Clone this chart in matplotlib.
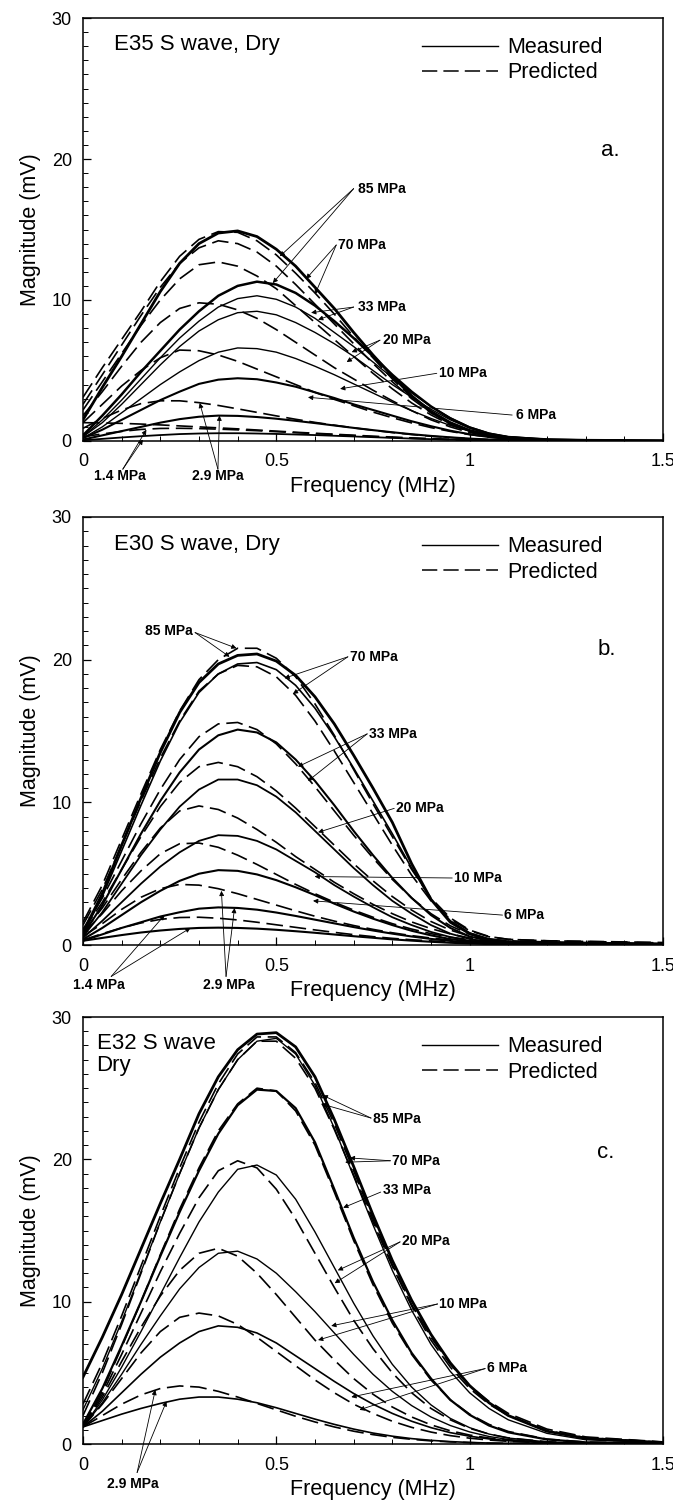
import numpy as np
import matplotlib
matplotlib.use('Agg')
import matplotlib.pyplot as plt
from matplotlib.ticker import FixedLocator, MultipleLocator
from matplotlib.lines import Line2D

plt.rcParams['font.family'] = ['Liberation Sans', 'DejaVu Sans']

# Frequency grid (MHz) the curves were read at
freq = [0.0, 0.05, 0.1, 0.15, 0.2, 0.25, 0.3, 0.35, 0.4, 0.45, 0.5, 0.55, 0.6,
        0.65, 0.7, 0.75, 0.8, 0.85, 0.9, 0.95, 1.0, 1.05, 1.1, 1.2, 1.3, 1.5]

# ---- panel a: E35 (mV) ----
a_solid_1 = [1.5, 3.8, 6.0, 8.3, 10.6, 12.6, 14.0, 14.75, 14.9, 14.5, 13.6, 12.4, 10.9, 9.4, 7.7, 6.1, 4.6, 3.2, 2.1, 1.3, 0.75, 0.42, 0.25, 0.1, 0.05, 0.02]
a_solid_2 = [0.4, 1.8, 3.3, 4.9, 6.4, 7.9, 9.2, 10.3, 11.0, 11.3, 11.1, 10.5, 9.6, 8.5, 7.3, 6.0, 4.7, 3.5, 2.45, 1.6, 0.95, 0.52, 0.28, 0.09, 0.04, 0.01]
a_solid_3 = [0.3, 1.5, 2.9, 4.4, 5.9, 7.3, 8.5, 9.5, 10.1, 10.3, 10.05, 9.5, 8.7, 7.7, 6.7, 5.6, 4.5, 3.4, 2.45, 1.65, 1.0, 0.56, 0.3, 0.1, 0.04, 0.01]
a_solid_4 = [0.3, 1.3, 2.6, 4.0, 5.4, 6.7, 7.8, 8.6, 9.1, 9.2, 8.95, 8.4, 7.7, 6.9, 6.0, 5.0, 4.0, 3.1, 2.25, 1.5, 0.92, 0.52, 0.28, 0.09, 0.03, 0.01]
a_solid_5 = [0.2, 1.0, 2.0, 3.0, 4.0, 4.9, 5.7, 6.3, 6.6, 6.55, 6.3, 5.85, 5.3, 4.7, 4.05, 3.4, 2.75, 2.15, 1.6, 1.1, 0.7, 0.4, 0.22, 0.07, 0.03, 0.01]
a_solid_6 = [0.2, 0.8, 1.5, 2.2, 2.9, 3.5, 4.05, 4.35, 4.45, 4.38, 4.15, 3.85, 3.45, 3.05, 2.6, 2.2, 1.8, 1.4, 1.05, 0.73, 0.48, 0.28, 0.15, 0.05, 0.02, 0.0]
a_solid_7 = [0.1, 0.4, 0.7, 1.0, 1.3, 1.55, 1.72, 1.8, 1.78, 1.7, 1.58, 1.43, 1.27, 1.1, 0.93, 0.77, 0.62, 0.48, 0.36, 0.26, 0.17, 0.1, 0.06, 0.02, 0.01, 0.0]
a_solid_8 = [0.05, 0.15, 0.25, 0.34, 0.42, 0.49, 0.53, 0.55, 0.55, 0.53, 0.5, 0.46, 0.42, 0.37, 0.32, 0.27, 0.22, 0.17, 0.13, 0.09, 0.06, 0.04, 0.02, 0.01, 0.0, 0.0]
a_dash_1 = [3.1, 5.2, 7.2, 9.2, 11.3, 13.1, 14.3, 14.85, 14.8, 14.2, 13.2, 11.9, 10.5, 9.0, 7.4, 5.9, 4.4, 3.1, 2.0, 1.2, 0.7, 0.38, 0.2, 0.06, 0.02, 0.0]
a_dash_2 = [2.6, 4.7, 6.8, 8.9, 10.9, 12.6, 13.7, 14.2, 14.0, 13.4, 12.4, 11.1, 9.7, 8.3, 6.9, 5.5, 4.2, 3.0, 2.0, 1.2, 0.7, 0.38, 0.2, 0.06, 0.02, 0.0]
a_dash_3 = [2.2, 4.2, 6.2, 8.2, 10.0, 11.5, 12.5, 12.7, 12.4, 11.7, 10.8, 9.6, 8.4, 7.2, 6.0, 4.8, 3.7, 2.7, 1.85, 1.15, 0.68, 0.37, 0.19, 0.06, 0.02, 0.0]
a_dash_4 = [1.8, 3.5, 5.3, 7.0, 8.4, 9.4, 9.8, 9.7, 9.3, 8.7, 7.9, 7.0, 6.1, 5.2, 4.4, 3.6, 2.85, 2.15, 1.5, 1.0, 0.6, 0.33, 0.17, 0.05, 0.02, 0.0]
a_dash_5 = [1.3, 2.6, 3.9, 5.0, 5.9, 6.45, 6.4, 6.1, 5.65, 5.1, 4.55, 4.0, 3.45, 2.95, 2.5, 2.05, 1.65, 1.28, 0.95, 0.68, 0.45, 0.28, 0.15, 0.05, 0.02, 0.0]
a_dash_6 = [0.9, 1.6, 2.2, 2.65, 2.85, 2.85, 2.72, 2.52, 2.28, 2.03, 1.78, 1.54, 1.32, 1.12, 0.93, 0.76, 0.6, 0.46, 0.34, 0.24, 0.16, 0.1, 0.06, 0.02, 0.01, 0.0]
a_dash_7 = [1.3, 1.28, 1.25, 1.2, 1.14, 1.07, 1.0, 0.93, 0.86, 0.78, 0.7, 0.62, 0.55, 0.48, 0.41, 0.34, 0.28, 0.22, 0.17, 0.12, 0.08, 0.05, 0.03, 0.01, 0.0, 0.0]
a_dash_8 = [0.3, 0.5, 0.68, 0.82, 0.89, 0.9, 0.88, 0.84, 0.79, 0.73, 0.66, 0.59, 0.52, 0.45, 0.38, 0.31, 0.25, 0.19, 0.14, 0.1, 0.07, 0.04, 0.02, 0.01, 0.0, 0.0]

# ---- panel b: E30 (mV) ----
b_solid_1 = [0.9, 3.6, 7.0, 10.3, 13.5, 16.3, 18.4, 19.7, 20.3, 20.4, 19.9, 18.9, 17.4, 15.5, 13.3, 11.0, 8.6, 5.7, 3.2, 1.6, 0.8, 0.4, 0.22, 0.1, 0.06, 0.03]
b_solid_2 = [0.8, 3.4, 6.6, 9.8, 12.9, 15.6, 17.7, 19.0, 19.7, 19.8, 19.3, 18.2, 16.6, 14.6, 12.4, 10.1, 7.8, 5.4, 3.2, 1.7, 0.85, 0.4, 0.2, 0.08, 0.04, 0.02]
b_solid_3 = [0.7, 2.8, 5.3, 7.8, 10.1, 12.1, 13.7, 14.7, 15.1, 14.9, 14.2, 13.0, 11.5, 9.8, 8.0, 6.3, 4.7, 3.3, 2.1, 1.2, 0.6, 0.3, 0.15, 0.05, 0.03, 0.01]
b_solid_4 = [0.6, 2.3, 4.3, 6.3, 8.1, 9.7, 10.9, 11.6, 11.6, 11.2, 10.4, 9.3, 8.0, 6.7, 5.4, 4.2, 3.1, 2.2, 1.4, 0.8, 0.42, 0.2, 0.1, 0.04, 0.02, 0.01]
b_solid_5 = [0.5, 1.7, 3.0, 4.3, 5.5, 6.5, 7.3, 7.7, 7.65, 7.3, 6.7, 5.9, 5.1, 4.2, 3.4, 2.65, 1.95, 1.4, 0.92, 0.56, 0.3, 0.15, 0.08, 0.03, 0.01, 0.0]
b_solid_6 = [0.4, 1.2, 2.1, 3.0, 3.8, 4.5, 5.0, 5.25, 5.2, 4.95, 4.55, 4.05, 3.5, 2.9, 2.35, 1.85, 1.4, 1.0, 0.68, 0.42, 0.24, 0.13, 0.07, 0.03, 0.01, 0.0]
b_solid_7 = [0.3, 0.75, 1.2, 1.6, 2.0, 2.3, 2.55, 2.64, 2.6, 2.48, 2.28, 2.04, 1.78, 1.52, 1.26, 1.02, 0.8, 0.6, 0.43, 0.29, 0.18, 0.11, 0.06, 0.02, 0.01, 0.0]
b_solid_8 = [0.3, 0.5, 0.7, 0.88, 1.02, 1.13, 1.2, 1.22, 1.2, 1.15, 1.07, 0.97, 0.86, 0.74, 0.62, 0.51, 0.4, 0.31, 0.23, 0.16, 0.11, 0.07, 0.04, 0.02, 0.01, 0.0]
b_dash_1 = [1.6, 4.2, 7.4, 10.6, 13.7, 16.4, 18.6, 20.0, 20.8, 20.8, 20.1, 18.8, 16.9, 14.7, 12.3, 9.9, 7.6, 5.3, 3.3, 1.9, 1.05, 0.6, 0.4, 0.3, 0.26, 0.18]
b_dash_2 = [1.4, 3.9, 7.0, 10.1, 13.1, 15.7, 17.8, 19.0, 19.6, 19.5, 18.8, 17.5, 15.7, 13.6, 11.4, 9.2, 7.0, 4.9, 3.1, 1.8, 1.0, 0.58, 0.4, 0.3, 0.25, 0.15]
b_dash_3 = [1.1, 3.3, 5.9, 8.5, 10.9, 13.0, 14.6, 15.5, 15.6, 15.1, 14.1, 12.7, 11.1, 9.4, 7.7, 6.1, 4.6, 3.3, 2.2, 1.35, 0.75, 0.42, 0.3, 0.22, 0.18, 0.1]
b_dash_4 = [1.0, 3.0, 5.3, 7.6, 9.7, 11.4, 12.5, 12.8, 12.5, 11.8, 10.8, 9.6, 8.3, 7.0, 5.7, 4.5, 3.4, 2.45, 1.65, 1.05, 0.62, 0.37, 0.26, 0.2, 0.16, 0.1]
b_dash_5 = [0.9, 2.6, 4.6, 6.5, 8.2, 9.4, 9.75, 9.5, 8.9, 8.1, 7.2, 6.2, 5.3, 4.4, 3.6, 2.85, 2.2, 1.62, 1.15, 0.78, 0.5, 0.32, 0.24, 0.19, 0.15, 0.1]
b_dash_6 = [0.8, 2.2, 3.8, 5.2, 6.4, 7.1, 7.15, 6.85, 6.3, 5.65, 4.95, 4.25, 3.6, 3.0, 2.45, 1.95, 1.5, 1.12, 0.8, 0.55, 0.38, 0.28, 0.22, 0.18, 0.14, 0.1]
b_dash_7 = [0.6, 1.5, 2.5, 3.35, 3.95, 4.25, 4.2, 3.95, 3.6, 3.2, 2.8, 2.4, 2.02, 1.68, 1.37, 1.1, 0.86, 0.66, 0.49, 0.36, 0.27, 0.22, 0.2, 0.17, 0.14, 0.1]
b_dash_8 = [0.35, 0.8, 1.2, 1.55, 1.8, 1.93, 1.95, 1.88, 1.76, 1.6, 1.42, 1.24, 1.06, 0.89, 0.73, 0.59, 0.47, 0.37, 0.29, 0.23, 0.19, 0.17, 0.16, 0.14, 0.12, 0.08]

# ---- panel c: E32 (mV) ----
c_solid_1 = [4.7, 7.5, 10.5, 13.7, 16.9, 20.0, 23.2, 25.8, 27.7, 28.8, 28.9, 27.9, 25.8, 22.8, 19.5, 16.1, 12.9, 10.1, 7.7, 5.7, 4.1, 2.9, 2.0, 0.9, 0.4, 0.1]
c_solid_2 = [2.4, 5.3, 8.6, 12.1, 15.6, 19.0, 22.2, 24.9, 27.0, 28.3, 28.5, 27.4, 25.2, 22.2, 18.8, 15.4, 12.2, 9.4, 7.0, 5.1, 3.6, 2.5, 1.7, 0.75, 0.3, 0.08]
c_solid_3 = [1.4, 3.9, 6.9, 10.0, 13.2, 16.3, 19.2, 21.8, 23.8, 24.9, 24.8, 23.6, 21.2, 17.9, 14.5, 11.4, 8.7, 6.4, 4.6, 3.1, 2.05, 1.3, 0.82, 0.32, 0.12, 0.03]
c_solid_4 = [1.2, 3.1, 5.4, 7.9, 10.5, 13.1, 15.6, 17.7, 19.3, 19.6, 18.9, 17.2, 14.9, 12.4, 9.9, 7.6, 5.6, 4.0, 2.75, 1.8, 1.15, 0.7, 0.42, 0.15, 0.05, 0.01]
c_solid_5 = [1.2, 2.9, 4.9, 7.0, 9.0, 10.9, 12.4, 13.4, 13.55, 13.0, 12.0, 10.7, 9.3, 7.8, 6.3, 4.9, 3.7, 2.7, 1.9, 1.3, 0.85, 0.53, 0.32, 0.11, 0.04, 0.01]
c_solid_6 = [1.2, 2.3, 3.6, 4.9, 6.1, 7.1, 7.9, 8.3, 8.2, 7.8, 7.1, 6.2, 5.3, 4.4, 3.55, 2.8, 2.15, 1.6, 1.15, 0.8, 0.55, 0.36, 0.23, 0.08, 0.03, 0.01]
c_solid_7 = [1.2, 1.65, 2.1, 2.5, 2.85, 3.15, 3.3, 3.3, 3.15, 2.9, 2.55, 2.15, 1.75, 1.38, 1.05, 0.77, 0.55, 0.38, 0.26, 0.17, 0.11, 0.07, 0.05, 0.02, 0.01, 0.0]
c_dash_1 = [2.8, 5.7, 9.0, 12.5, 16.0, 19.4, 22.6, 25.3, 27.4, 28.6, 28.6, 27.5, 25.4, 22.5, 19.2, 15.8, 12.6, 9.8, 7.5, 5.6, 4.1, 3.0, 2.15, 1.05, 0.5, 0.15]
c_dash_2 = [2.0, 5.0, 8.4, 12.0, 15.6, 19.0, 22.2, 24.9, 27.0, 28.3, 28.3, 27.1, 25.0, 22.1, 18.9, 15.6, 12.5, 9.7, 7.3, 5.4, 3.9, 2.8, 2.0, 0.95, 0.45, 0.12]
c_dash_3 = [1.2, 3.7, 6.8, 10.0, 13.3, 16.5, 19.4, 22.0, 23.9, 25.0, 24.8, 23.4, 21.0, 17.7, 14.3, 11.2, 8.5, 6.3, 4.5, 3.1, 2.1, 1.38, 0.88, 0.35, 0.14, 0.04]
c_dash_4 = [1.2, 3.5, 6.3, 9.2, 12.1, 14.8, 17.3, 19.2, 19.9, 19.4, 17.9, 15.8, 13.4, 11.0, 8.7, 6.7, 5.0, 3.6, 2.5, 1.7, 1.1, 0.7, 0.43, 0.16, 0.06, 0.01]
c_dash_5 = [1.2, 3.3, 5.8, 8.2, 10.4, 12.2, 13.4, 13.75, 13.2, 12.0, 10.5, 8.9, 7.3, 5.9, 4.6, 3.5, 2.6, 1.9, 1.35, 0.93, 0.63, 0.42, 0.27, 0.1, 0.03, 0.01]
c_dash_6 = [1.2, 2.8, 4.6, 6.4, 7.9, 8.9, 9.2, 9.0, 8.4, 7.5, 6.5, 5.5, 4.5, 3.6, 2.8, 2.15, 1.6, 1.17, 0.84, 0.59, 0.41, 0.28, 0.19, 0.07, 0.02, 0.01]
c_dash_7 = [1.2, 2.0, 2.8, 3.45, 3.9, 4.08, 4.0, 3.7, 3.3, 2.85, 2.4, 1.95, 1.55, 1.2, 0.9, 0.66, 0.47, 0.33, 0.22, 0.15, 0.1, 0.06, 0.04, 0.02, 0.01, 0.0]

panels = [
    dict(solid=[a_solid_1, a_solid_2, a_solid_3, a_solid_4, a_solid_5, a_solid_6, a_solid_7, a_solid_8],
         dash=[a_dash_1, a_dash_2, a_dash_3, a_dash_4, a_dash_5, a_dash_6, a_dash_7, a_dash_8],
         lw=[2.0, 1.8, 1.0, 1.0, 1.0, 1.5, 1.5, 1.3]),
    dict(solid=[b_solid_1, b_solid_2, b_solid_3, b_solid_4, b_solid_5, b_solid_6, b_solid_7, b_solid_8],
         dash=[b_dash_1, b_dash_2, b_dash_3, b_dash_4, b_dash_5, b_dash_6, b_dash_7, b_dash_8],
         lw=[2.0, 1.2, 1.5, 1.3, 1.3, 1.5, 1.5, 1.5]),
    dict(solid=[c_solid_1, c_solid_2, c_solid_3, c_solid_4, c_solid_5, c_solid_6, c_solid_7],
         dash=[c_dash_1, c_dash_2, c_dash_3, c_dash_4, c_dash_5, c_dash_6, c_dash_7],
         lw=[2.0, 1.0, 1.6, 1.0, 1.0, 1.2, 1.2]),
]

fig = plt.figure(figsize=(6.73, 15.02), dpi=100)
boxes = [[0.1233, 0.7064, 0.8618, 0.2816],
         [0.1233, 0.3708, 0.8618, 0.2850],
         [0.1233, 0.0386, 0.8618, 0.2843]]
axes = [fig.add_axes(b) for b in boxes]

DASH = (10, 4)
ARROW = dict(arrowstyle='-|>', lw=0.6, color='k', mutation_scale=7,
             shrinkA=0, shrinkB=0)


def label(ax, text, xy, tail, targets, ha='left'):
    ax.text(xy[0], xy[1], text, fontsize=10, fontweight='bold', ha=ha,
            va='center', clip_on=False)
    for t in targets:
        ax.annotate('', xy=t, xytext=tail, arrowprops=ARROW,
                    annotation_clip=False)


for ax, p in zip(axes, panels):
    for y, w in zip(p['solid'], p['lw']):
        ax.plot(freq, y, color='k', lw=w, solid_joinstyle='round')
    for y in p['dash']:
        ax.plot(freq, y, color='k', lw=1.2, dashes=DASH)

    ax.set_xlim(0, 1.5)
    ax.set_ylim(0, 30)
    ax.xaxis.set_major_locator(FixedLocator([0, 0.5, 1, 1.5]))
    ax.set_xticklabels(['0', '0.5', '1', '1.5'])
    ax.xaxis.set_minor_locator(MultipleLocator(0.1))
    ax.yaxis.set_major_locator(FixedLocator([0, 10, 20, 30]))
    ax.set_yticklabels(['0', '10', '20', '30'])
    ax.yaxis.set_minor_locator(MultipleLocator(1))
    ax.tick_params(which='both', direction='in', top=False, right=False,
                   labelsize=13)
    ax.tick_params(axis='x', which='both', pad=9)
    ax.tick_params(axis='y', which='both', pad=8)
    ax.tick_params(which='major', length=6, width=0.9)
    ax.tick_params(which='minor', length=3.5, width=0.7)
    for s in ax.spines.values():
        s.set_linewidth(1.1)
    ax.set_xlabel('Frequency (MHz)', fontsize=15.5, labelpad=4)
    ax.set_ylabel('Magnitude (mV)', fontsize=15.5, labelpad=8)

    handles = [Line2D([], [], color='k', lw=1.0),
               Line2D([], [], color='k', lw=1.1, dashes=DASH)]
    ax.legend(handles, ['Measured', 'Predicted'], loc='upper left',
              bbox_to_anchor=(0.585, 0.955), frameon=False, fontsize=15.5,
              handlelength=3.5, handletextpad=0.45, labelspacing=0.2,
              borderpad=0, borderaxespad=0)

ax_a, ax_b, ax_c = axes

# panel a texts
ax_a.text(0.08, 28.1, 'E35 S wave, Dry', fontsize=16, va='center')
ax_a.text(1.34, 20.6, 'a.', fontsize=16, va='center')
label(ax_a, '85 MPa', (0.71, 17.9), (0.70, 17.9), [(0.509, 13.1), (0.491, 11.2)])
label(ax_a, '70 MPa', (0.66, 13.9), (0.655, 13.9), [(0.577, 11.5), (0.60, 10.4)])
label(ax_a, '33 MPa', (0.71, 9.5), (0.70, 9.5), [(0.59, 9.1), (0.608, 8.6)])
label(ax_a, '20 MPa', (0.775, 7.15), (0.768, 7.15), [(0.695, 6.3), (0.682, 5.6)])
label(ax_a, '10 MPa', (0.92, 4.8), (0.915, 4.8), [(0.665, 3.7)])
label(ax_a, '6 MPa', (1.12, 1.84), (1.11, 1.84), [(0.582, 3.1)])
label(ax_a, '1.4 MPa', (0.095, -2.45), (0.103, -2.0), [(0.164, 0.8), (0.155, 0.1)], ha='center')
label(ax_a, '2.9 MPa', (0.349, -2.45), (0.349, -2.0), [(0.302, 2.7), (0.353, 1.8)], ha='center')

# panel b texts
ax_b.text(0.08, 28.05, 'E30 S wave, Dry', fontsize=16, va='center')
ax_b.text(1.33, 20.7, 'b.', fontsize=16, va='center')
label(ax_b, '85 MPa', (0.285, 22.0), (0.29, 21.9), [(0.397, 20.8), (0.379, 20.2)], ha='right')
label(ax_b, '70 MPa', (0.69, 20.2), (0.685, 20.2), [(0.521, 18.7), (0.543, 17.6)])
label(ax_b, '33 MPa', (0.74, 14.8), (0.735, 14.8), [(0.556, 12.5), (0.582, 11.5)])
label(ax_b, '20 MPa', (0.81, 9.58), (0.805, 9.58), [(0.608, 7.9)])
label(ax_b, '10 MPa', (0.96, 4.7), (0.955, 4.7), [(0.599, 4.8)])
label(ax_b, '6 MPa', (1.09, 2.1), (1.085, 2.1), [(0.595, 3.1)])
label(ax_b, '1.4 MPa', (0.04, -2.8), (0.073, -2.2), [(0.211, 2.1), (0.278, 1.2)], ha='center')
label(ax_b, '2.9 MPa', (0.376, -2.8), (0.37, -2.2), [(0.358, 3.8), (0.392, 2.6)], ha='center')

# panel c texts
ax_c.text(0.035, 28.15, 'E32 S wave', fontsize=16, va='center')
ax_c.text(0.035, 26.6, 'Dry', fontsize=16, va='center')
ax_c.text(1.33, 20.5, 'c.', fontsize=16, va='center')
label(ax_c, '85 MPa', (0.75, 22.8), (0.745, 22.9), [(0.62, 24.5), (0.616, 23.9)])
label(ax_c, '70 MPa', (0.80, 19.9), (0.795, 19.9), [(0.69, 20.1), (0.678, 19.8)])
label(ax_c, '33 MPa', (0.775, 17.85), (0.77, 17.7), [(0.673, 16.6)])
label(ax_c, '20 MPa', (0.826, 14.27), (0.82, 14.2), [(0.659, 12.2), (0.651, 11.3)])
label(ax_c, '10 MPa', (0.922, 9.84), (0.917, 9.84), [(0.642, 8.3), (0.608, 7.3)])
label(ax_c, '6 MPa', (1.045, 5.32), (1.04, 5.3), [(0.694, 3.3), (0.715, 2.4)])
label(ax_c, '2.9 MPa', (0.13, -2.8), (0.14, -2.0), [(0.187, 3.8), (0.216, 3.0)], ha='center')

fig.savefig('out.png', dpi=100)
